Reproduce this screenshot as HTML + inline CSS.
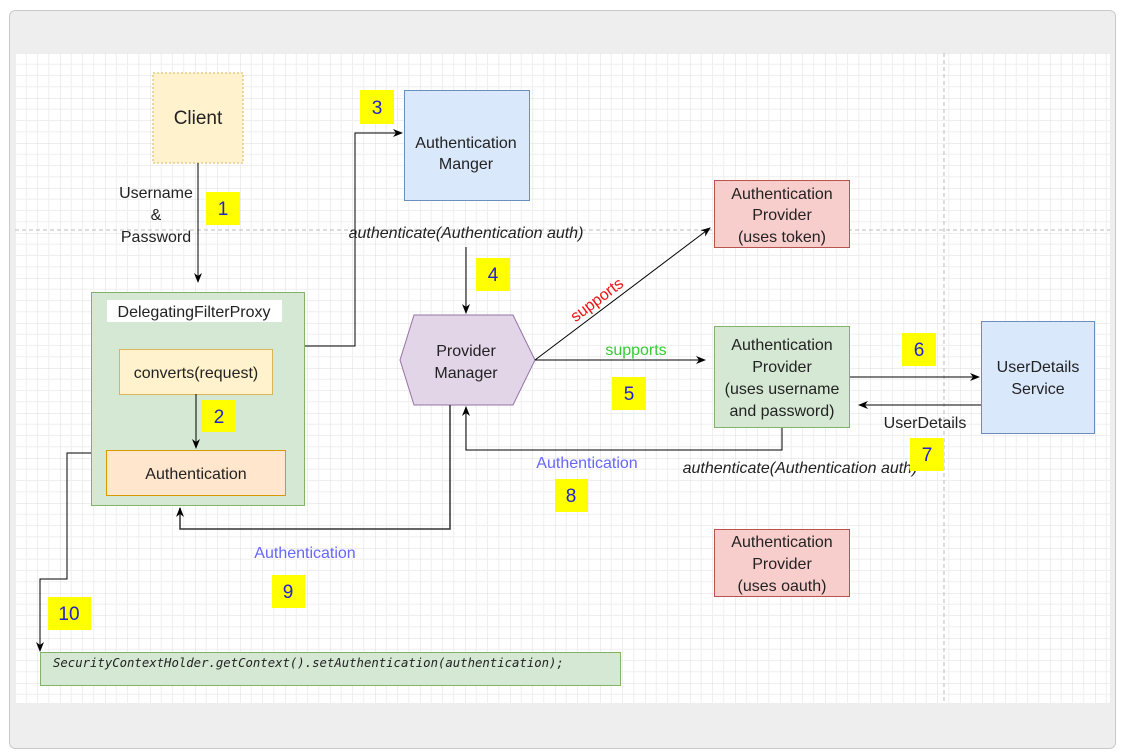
<!DOCTYPE html>
<html><head><meta charset="utf-8"><style>
html,body{margin:0;padding:0;background:#fff;}
svg{display:block;font-family:"Liberation Sans",Arial,sans-serif;}
</style></head><body>
<svg width="1123" height="754" viewBox="0 0 1123 754" xmlns="http://www.w3.org/2000/svg">
<defs>
<pattern id="g" x="15" y="53" width="45" height="45" patternUnits="userSpaceOnUse">
<path d="M11.25 0V45M22.5 0V45M33.75 0V45M0 11.25H45M0 22.5H45M0 33.75H45" stroke="#efefef" stroke-width="1"/>
<path d="M0 0V45M0 0H45" stroke="#dedede" stroke-width="1"/>
</pattern>
<marker id="a" markerWidth="10" markerHeight="10" refX="9" refY="5" orient="auto" markerUnits="userSpaceOnUse"><path d="M0,1 L10,5 L0,9 L3,5z" fill="#000"/></marker>
</defs>
<rect x="0" y="0" width="1123" height="754" fill="#fff"/>
<rect x="9.5" y="10.5" width="1106" height="738" rx="6" fill="#eeeeee" stroke="#c8c8c8"/>
<rect x="15" y="53" width="1095" height="650" fill="#fff"/>
<rect x="15" y="53" width="1095" height="650" fill="url(#g)"/>
<line x1="15" y1="230" x2="1110" y2="230" stroke="#bbb" stroke-dasharray="4,3"/>
<line x1="944" y1="53" x2="944" y2="703" stroke="#bbb" stroke-dasharray="4,3"/>

<g font-size="16" fill="#222" text-anchor="middle">
<!-- Client -->
<rect x="153" y="73" width="90" height="90" fill="#fff2cc" stroke="#d6b656" stroke-dasharray="2,2"/>
<text x="198" y="124" font-size="19">Client</text>
<line x1="198" y1="163" x2="198" y2="282" stroke="#000" marker-end="url(#a)"/>
<text x="156" y="198">Username</text><text x="156" y="220">&amp;</text><text x="156" y="242">Password</text>

<!-- DFP -->
<rect x="91.5" y="292.5" width="213" height="213" fill="#d5e8d4" stroke="#82b366"/>
<rect x="107" y="300" width="175" height="22" fill="#fff"/>
<text x="194" y="317">DelegatingFilterProxy</text>
<rect x="119.5" y="349.5" width="153" height="45" fill="#fff2cc" stroke="#d6b656"/>
<text x="196" y="378">converts(request)</text>
<line x1="196" y1="394" x2="196" y2="448" stroke="#000" marker-end="url(#a)"/>
<rect x="106.5" y="450.5" width="179" height="45" fill="#ffe6cc" stroke="#d79b00"/>
<text x="196" y="479">Authentication</text>

<!-- DFP to manager -->
<polyline points="305,346 355,346 355,133 402,133" fill="none" stroke="#000" marker-end="url(#a)"/>
<rect x="404.5" y="90.5" width="125" height="110" fill="#dae8fc" stroke="#6c8ebf"/>
<text x="466" y="148">Authentication</text><text x="466" y="169">Manger</text>
<text x="466" y="238" font-style="italic">authenticate(Authentication auth)</text>
<line x1="466" y1="247" x2="466" y2="313" stroke="#000" marker-end="url(#a)"/>

<!-- Provider manager -->
<polygon points="400,360 414,315 513,315 535,360 513,405 414,405" fill="#e1d5e7" stroke="#9673a6"/>
<text x="466" y="356">Provider</text><text x="466" y="378">Manager</text>
<line x1="535" y1="360" x2="710" y2="228" stroke="#000" marker-end="url(#a)"/>
<text x="600" y="304" fill="#ee1111" transform="rotate(-37 600 304)">supports</text>
<line x1="535" y1="360" x2="705" y2="360" stroke="#000" marker-end="url(#a)"/>
<text x="636" y="355" fill="#33cc33">supports</text>

<rect x="714.5" y="180.5" width="135" height="67" fill="#f8cecc" stroke="#b85450"/>
<text x="782" y="199">Authentication</text><text x="782" y="220">Provider</text><text x="782" y="242">(uses token)</text>

<rect x="714.5" y="326.5" width="135" height="101" fill="#d5e8d4" stroke="#82b366"/>
<text x="782" y="350">Authentication</text><text x="782" y="372">Provider</text><text x="782" y="394">(uses username</text><text x="782" y="416">and password)</text>

<line x1="850" y1="377" x2="979" y2="377" stroke="#000" marker-end="url(#a)"/>
<rect x="981.5" y="321.5" width="113" height="112" fill="#dae8fc" stroke="#6c8ebf"/>
<text x="1038" y="372">UserDetails</text><text x="1038" y="394">Service</text>
<line x1="981" y1="405" x2="859" y2="405" stroke="#000" marker-end="url(#a)"/>
<text x="925" y="428">UserDetails</text>

<polyline points="782,428 782,450 466,450 466,407" fill="none" stroke="#000" marker-end="url(#a)"/>
<text x="587" y="468" fill="#6666ff">Authentication</text>
<text x="800" y="473" font-style="italic">authenticate(Authentication auth)</text>

<polyline points="450,405 450,529 180,529 180,508" fill="none" stroke="#333" stroke-width="1.5" marker-end="url(#a)"/>
<text x="305" y="558" fill="#6666ff">Authentication</text>

<rect x="714.5" y="529.5" width="135" height="67" fill="#f8cecc" stroke="#b85450"/>
<text x="782" y="547">Authentication</text><text x="782" y="569">Provider</text><text x="782" y="591">(uses oauth)</text>

<polyline points="91,453 67,453 67,579 40,579 40,651" fill="none" stroke="#000" marker-end="url(#a)"/>
<rect x="40.5" y="652.5" width="580" height="33" fill="#d5e8d4" stroke="#82b366"/>
<text x="53" y="667" text-anchor="start" font-family="'DejaVu Sans Mono','Liberation Mono',monospace" font-style="italic" font-size="12.3">SecurityContextHolder.getContext().setAuthentication(authentication);</text>

<!-- badges -->
<g fill="#ffff00"><rect x="206" y="192" width="34" height="33"/><rect x="202" y="400" width="34" height="32"/><rect x="360" y="90" width="34" height="34"/><rect x="476" y="258" width="34" height="33"/><rect x="612" y="377" width="34" height="33"/><rect x="902" y="333" width="34" height="33"/><rect x="910" y="438" width="34" height="33"/><rect x="555" y="479" width="33" height="33"/><rect x="272" y="575" width="33" height="33"/><rect x="48" y="597" width="43" height="33"/></g>
<g fill="#2222cc" font-size="19"><text x="223" y="215">1</text><text x="219" y="423">2</text><text x="377" y="114">3</text><text x="493" y="281">4</text><text x="629" y="400">5</text><text x="919" y="356">6</text><text x="927" y="461">7</text><text x="571" y="502">8</text><text x="288" y="598">9</text><text x="69" y="620">10</text></g>
</g>
</svg>
</body></html>
